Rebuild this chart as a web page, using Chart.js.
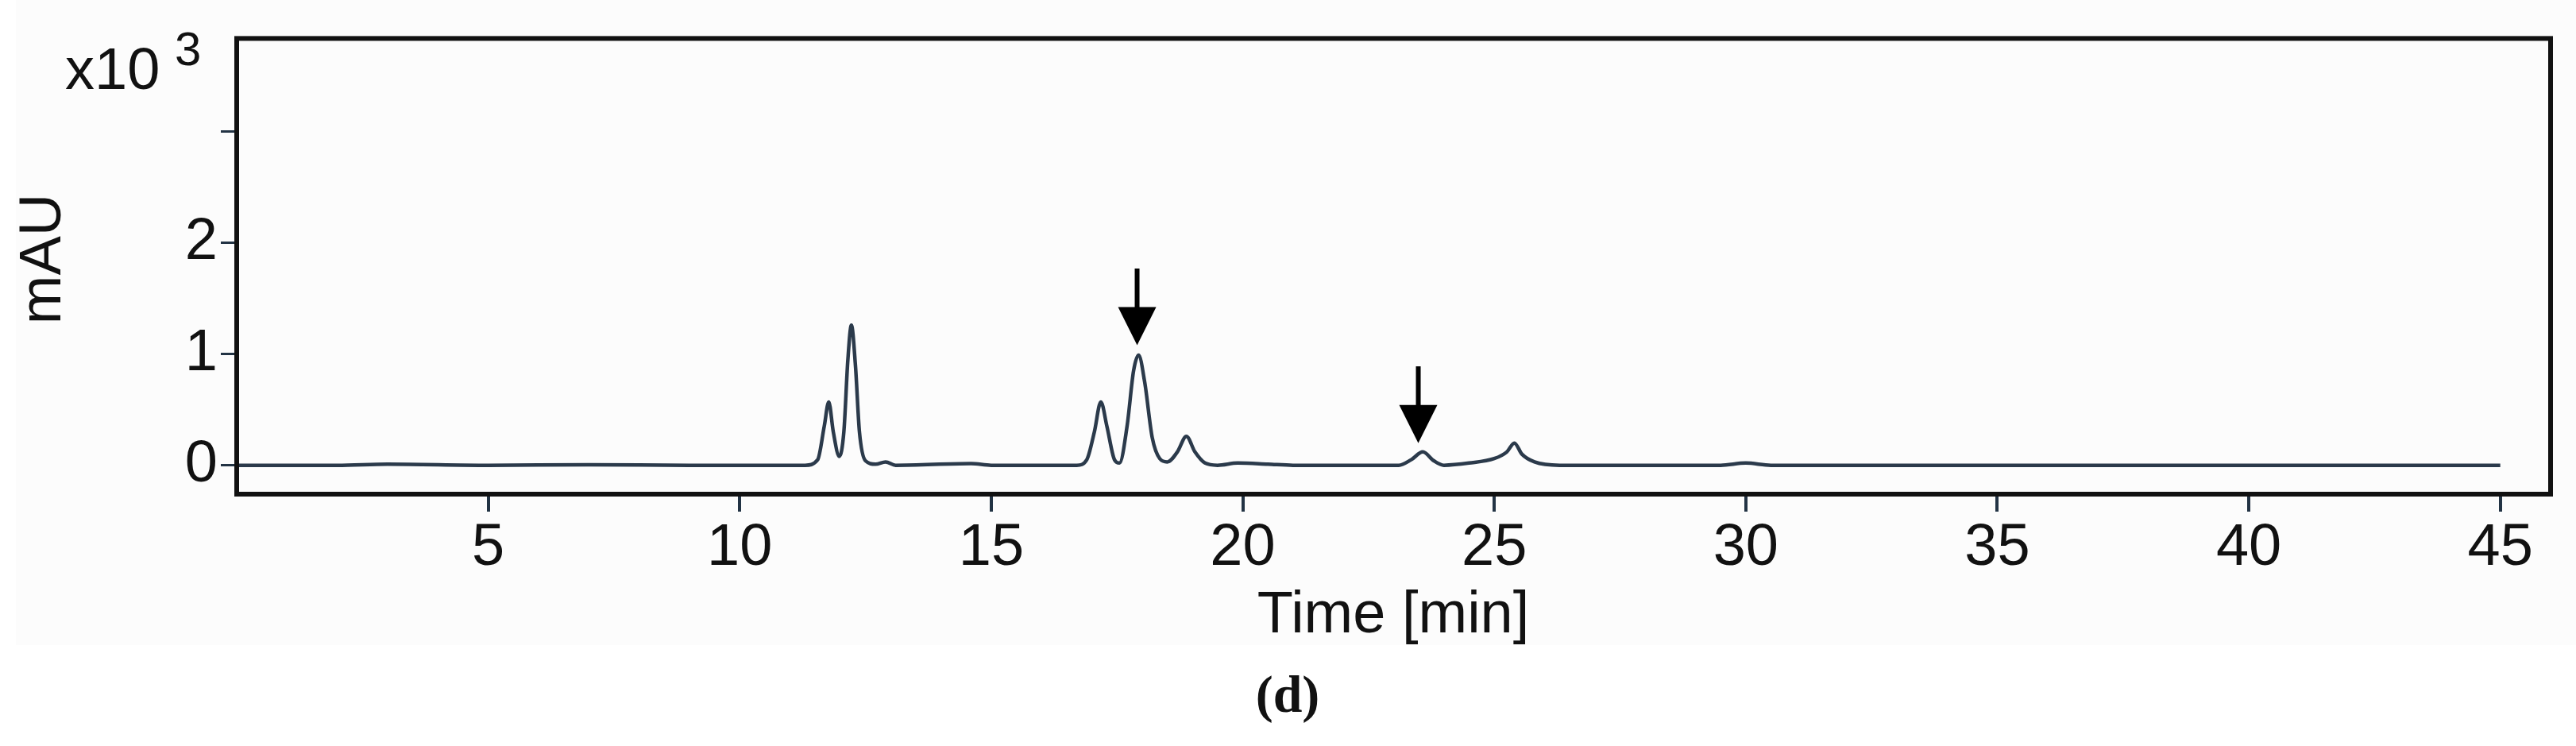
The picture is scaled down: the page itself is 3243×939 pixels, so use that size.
<!DOCTYPE html>
<html><head><meta charset="utf-8">
<script src="https://cdn.jsdelivr.net/npm/chart.js@4"></script>
<style>html,body{margin:0;padding:0;background:#fff}canvas{display:block}</style>
</head><body>
<canvas id="c" width="3243" height="939"></canvas>
<script>
const times = [0,2,3,5,7,9,11.3,11.55,11.68,11.77,11.86,11.98,12.07,12.15,12.22,12.3,12.38,12.5,12.7,12.9,13.1,14.6,15,16.7,16.9,17.05,17.18,17.3,17.45,17.55,17.7,17.83,17.93,18.05,18.2,18.35,18.5,18.7,18.88,19.05,19.25,19.5,19.9,20.5,21,23.1,23.35,23.58,23.8,24,24.5,25.0,25.25,25.4,25.55,25.8,26.3,29.5,30,30.5,45];
const mAU = [0,0,0.01,0,0.005,0,0,0.05,0.35,0.57,0.3,0.08,0.3,0.95,1.26,0.9,0.3,0.04,0.01,0.03,0,0.015,0,0,0.05,0.3,0.57,0.35,0.05,0.02,0.35,0.85,0.99,0.75,0.25,0.06,0.03,0.12,0.26,0.12,0.02,0,0.02,0.01,0,0,0.05,0.12,0.04,0,0.02,0.06,0.12,0.2,0.1,0.03,0,0,0.02,0,0];
const xTicks = [5,10,15,20,25,30,35,40,45];
const yTicks = [0,1,2,3];
const yTickLabels = ['0','1','2',''];
const arrowX = [17.9,23.49];
const arrowTop = [1.77,0.89];
const arrowTip = [1.08,0.2];

const FONT = '"Liberation Sans", Arial, sans-serif';
const deco = {
  id:'deco',
  beforeDraw(c){const g=c.ctx;g.save();g.fillStyle='#fff';g.fillRect(0,0,c.width,c.height);
    g.fillStyle='#fcfcfc';g.fillRect(20,0,c.width-20,812);g.restore();},
  afterDraw(c){
    const g=c.ctx,a=c.chartArea,xs=c.scales.x,ys=c.scales.y;
    g.save();
    g.strokeStyle='#111';g.lineWidth=6;g.strokeRect(a.left,a.top,a.right-a.left,a.bottom-a.top);
    g.fillStyle='#000';g.strokeStyle='#000';
    for(let i=0;i<arrowX.length;i++){
      const px=xs.getPixelForValue(arrowX[i]),t=ys.getPixelForValue(arrowTop[i]),tip=ys.getPixelForValue(arrowTip[i]);
      const hl=48,hw=24;
      g.lineWidth=6;g.beginPath();g.moveTo(px,t);g.lineTo(px,tip-hl+4);g.stroke();
      g.beginPath();g.moveTo(px-hw,tip-hl);g.lineTo(px+hw,tip-hl);g.lineTo(px,tip);g.closePath();g.fill();
    }
    g.fillStyle='#111';
    g.font='74px '+FONT;g.textBaseline='alphabetic';g.textAlign='left';
    g.fillText('x10',82,112);
    g.font='60px '+FONT;g.fillText('3',220,82);
    g.font='74px '+FONT;g.textAlign='center';g.textBaseline='middle';
    g.fillText('Time [min]',1754,776);
    g.save();g.translate(56,326);g.rotate(-Math.PI/2);g.fillText('mAU',0,0);g.restore();
    g.font='bold 66px "Liberation Serif", "Times New Roman", serif';
    g.fillText('(d)',1621,879);
    g.restore();
  }
};
new Chart(document.getElementById('c'),{
  type:'line',
  data:{datasets:[{data:times.map((t,i)=>({x:t,y:mAU[i]})),borderColor:'#2b3a4b',borderWidth:4.5,pointRadius:0,cubicInterpolationMode:'monotone',fill:false}]},
  options:{responsive:false,animation:false,devicePixelRatio:1,
    layout:{padding:{left:0,top:8,right:32,bottom:0}},
    plugins:{legend:{display:false},tooltip:{enabled:false}},
    scales:{
      x:{type:'linear',min:0,max:46,
        afterBuildTicks:s=>{s.ticks=xTicks.map(v=>({value:v}));},
        afterFit:s=>{s.height=317;},
        border:{display:false},
        grid:{drawOnChartArea:false,tickLength:22,color:'#223344',lineWidth:4},
        ticks:{color:'#111',font:{size:74,family:FONT},padding:2,maxRotation:0}},
      y:{type:'linear',min:-0.26,max:3.84,
        afterBuildTicks:s=>{s.ticks=yTicks.map(v=>({value:v}));},
        afterFit:s=>{s.width=298;},
        border:{display:false},
        grid:{drawOnChartArea:false,tickLength:20,color:'#223344',lineWidth:3},
        ticks:{color:'#111',font:{size:74,family:FONT},padding:4,callback:(v,i)=>yTickLabels[yTicks.indexOf(v)]}}
    }},
  plugins:[deco]
});
</script>
</body></html>
